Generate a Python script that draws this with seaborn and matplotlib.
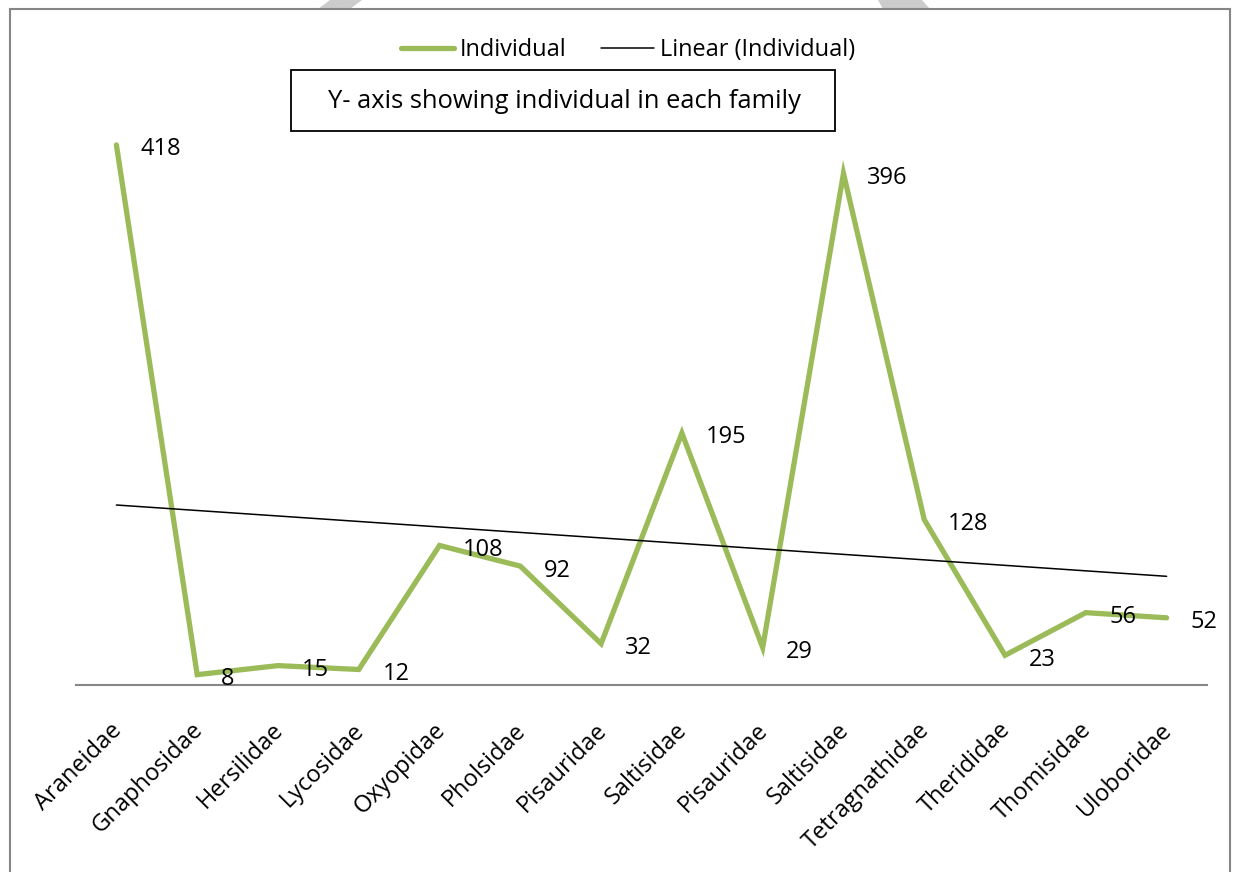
import numpy as np
import pandas as pd
import matplotlib
matplotlib.use("Agg")
import matplotlib.pyplot as plt
from matplotlib.patches import Rectangle, Polygon
from matplotlib.lines import Line2D
from matplotlib.transforms import ScaledTranslation
import seaborn as sns

# Spider families and number of individuals recorded in each
families = ["Araneidae", "Gnaphosidae", "Hersilidae", "Lycosidae", "Oxyopidae",
            "Pholsidae", "Pisauridae", "Saltisidae", "Pisauridae", "Saltisidae",
            "Tetragnathidae", "Therididae", "Thomisidae", "Uloboridae"]
individuals = [418, 8, 15, 12, 108, 92, 32, 195, 29, 396, 128, 23, 56, 52]

series_name = "Individual"
trend_name = "Linear (Individual)"
note_text = "Y- axis showing individual in each family"

GREEN = "#9BBB59"
GREY = "#868686"
W, H = 1234, 872

sns.set_theme(style="white")
plt.rcParams["font.family"] = ["Open Sans", "DejaVu Sans"]
plt.rcParams["text.color"] = "black"

fig = plt.figure(figsize=(W / 100, H / 100), dpi=100)
ax = fig.add_axes([76 / W, (H - 685) / H, (1207 - 76) / W, 450 * 1.292 / H])

df = pd.DataFrame({"pos": np.arange(len(families)), "count": individuals})
sns.lineplot(data=df, x="pos", y="count", ax=ax, color=GREEN, linewidth=3.8,
             solid_capstyle="round", solid_joinstyle="miter", legend=False)

# Least-squares linear trend through the series
slope, intercept = np.polyfit(df["pos"], df["count"], 1)
ax.plot(df["pos"], slope * df["pos"] + intercept, color="black", linewidth=1.1)

# Value labels to the right of each point
for x, y in zip(df["pos"], df["count"]):
    ax.annotate(str(y), (x, y), xytext=(17, -7.5), textcoords="offset points",
                ha="left", va="baseline", fontsize=17, color="black")

ax.set_xlim(-0.5, len(families) - 0.5)
ax.set_ylim(0, 450)
ax.set_xticks(df["pos"])
ax.set_xticklabels(families, rotation=45, ha="right", va="center",
                   rotation_mode="anchor", fontsize=17, color="black")
ax.tick_params(axis="x", length=0, pad=30)
for lab in ax.get_xticklabels():
    lab.set_transform(lab.get_transform() + ScaledTranslation(0.02, 0, fig.dpi_scale_trans))
ax.set_yticks([])
ax.set_xlabel("")
ax.set_ylabel("")
for side in ["top", "left", "right"]:
    ax.spines[side].set_visible(False)
ax.spines["bottom"].set_color(GREY)
ax.spines["bottom"].set_linewidth(1.5)

# Legend across the top
handles = [Line2D([], [], color=GREEN, linewidth=3.8, solid_capstyle="round"),
           Line2D([], [], color="black", linewidth=1.1)]
fig.legend(handles, [series_name, trend_name], loc="center",
           bbox_to_anchor=(628 / W, 1 - 50 / H), ncol=2, frameon=False,
           fontsize=16.9, handlelength=2.25, handletextpad=0.25, columnspacing=1.45,
           labelcolor="black")

# Boxed note under the legend
fig.add_artist(Rectangle((291 / W, 1 - 131 / H), (835 - 291) / W, 61 / H,
                         transform=fig.transFigure, fill=False,
                         edgecolor="black", linewidth=1.3))
fig.text(564 / W, 1 - 102 / H, note_text, ha="center", va="center",
         fontsize=18.4, color="black")

# Faint diagonal marks along the top edge
for pts in ([(318, 9), (330, 0), (362, 0), (350, 9)],
            [(878, 0), (922, 0), (930, 9), (883, 9)]):
    fig.add_artist(Polygon([(px / W, 1 - py / H) for px, py in pts], closed=True,
                           transform=fig.transFigure, facecolor="#cccccc",
                           edgecolor="none"))

# Outer chart frame
fig.add_artist(Rectangle((10 / W, -0.1), (1230 - 10) / W, 1 - 9 / H + 0.1,
                         transform=fig.transFigure, fill=False,
                         edgecolor=GREY, linewidth=1.5))

fig.savefig("out.png", dpi=100)
